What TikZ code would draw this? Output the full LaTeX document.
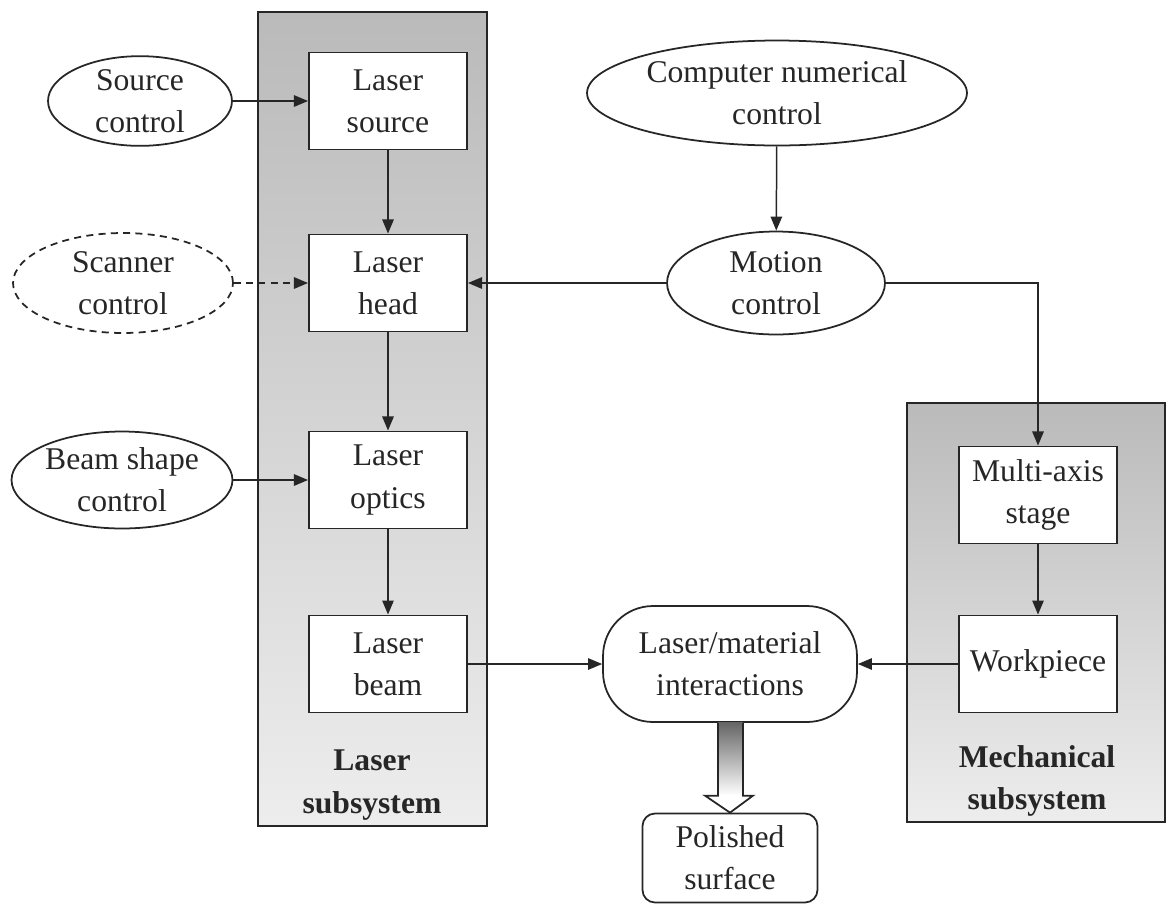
\documentclass[tikz,border=0pt]{standalone}
\usepackage{fontspec}
\setmainfont{Liberation Serif}
\usepackage{tikz}
\usetikzlibrary{arrows.meta, positioning, calc, shapes.geometric}

\tikzset{
	txt/.style={font=\fontsize{18}{24}\selectfont, text=black!85, align=center},
	unit/.style={txt, draw=black!85, line width=1.1pt, fill=white, minimum width=3.16cm, minimum height=1.94cm, inner sep=0pt},
	ctrl/.style={txt, ellipse, draw=black!85, line width=1pt, fill=white, inner sep=0pt},
	conn/.style={draw=black!85, line width=0.85pt, -{Triangle[length=8pt, width=6.5pt]}},
	panel/.style={draw=black!85, line width=1pt, top color=black!27, bottom color=black!7},
	paneltitle/.style={font=\fontsize{18}{24}\selectfont\bfseries, text=black!85, align=center}
}

\begin{document}
\begin{tikzpicture}[x=0.02cm, y=-0.02cm]
	\useasboundingbox (0,0) rectangle (1166,907);

	% subsystem panels
	\draw[panel] (258,12) rectangle (487,826);
	\draw[panel] (907,403) rectangle (1165,822);
	\node[paneltitle] (lasersub) at (372,785) {Laser\\subsystem};
	\node[paneltitle] (mechsub) at (1037,781) {Mechanical\\subsystem};

	% laser chain
	\node[unit] (lsource) at (388,101) {Laser\\source};
	\node[unit] (lhead) at (388,283) {Laser\\head};
	\node[unit] (loptics) at (388,480) {Laser\\optics};
	\node[unit] (lbeam) at (388,664) {Laser\\beam};

	% controls
	\node[ctrl, minimum width=3.68cm, minimum height=1.7cm] (srcctrl) at (140,101) {Source\\control};
	\node[ctrl, dashed, dash pattern=on 4pt off 3pt, minimum width=4.4cm, minimum height=2cm] (scanctrl) at (123,283) {Scanner\\control};
	\node[ctrl, minimum width=4.42cm, minimum height=1.94cm] (beamctrl) at (122,480) {Beam shape\\control};
	\node[ctrl, minimum width=7.6cm, minimum height=2.1cm] (cnc) at (777,93) {Computer numerical\\control};
	\node[ctrl, minimum width=4.36cm, minimum height=2.06cm] (motion) at (776,283) {Motion\\control};

	% mechanical chain
	\node[unit] (stage) at (1038,495) {Multi-axis\\stage};
	\node[unit] (workpiece) at (1038,664) {Workpiece};

	% process and result
	\node[txt, draw=black!85, line width=1pt, rounded corners=1cm, minimum width=5.08cm, minimum height=2.32cm, inner sep=0pt] (inter) at (730,664) {Laser/material\\interactions};
	\node[txt, draw=black!85, line width=1pt, rounded corners=0.25cm, minimum width=3.5cm, minimum height=1.78cm, inner sep=0pt] (polished) at (730,858) {Polished\\surface};

	% connectors
	\draw[conn] (srcctrl) -- (lsource);
	\draw[conn, dashed, dash pattern=on 4pt off 3pt] (scanctrl) -- (lhead);
	\draw[conn] (beamctrl) -- (loptics);
	\draw[conn] (lsource) -- (lhead);
	\draw[conn] (lhead) -- (loptics);
	\draw[conn] (loptics) -- (lbeam);
	\draw[conn] (cnc) -- (motion);
	\draw[conn] (motion) -- (lhead);
	\draw[conn] (motion.east) -| (stage.north);
	\draw[conn] (stage) -- (workpiece);
	\draw[conn] (lbeam) -- (inter);
	\draw[conn] (workpiece) -- (inter);

	% hollow output arrow
	\coordinate (tip) at (polished.north);
	\shade[top color=black!60, bottom color=white] ($(inter.south)+(-12,0)$) rectangle ($(tip)+(13,-17)$);
	\draw[draw=black!85, line width=1pt, line join=miter] ($(inter.south)+(-12,0)$) |- ($(tip)+(-25,-17)$) -- (tip) -- ($(tip)+(23,-17)$) -| ($(inter.south)+(13,0)$);
\end{tikzpicture}
\end{document}
